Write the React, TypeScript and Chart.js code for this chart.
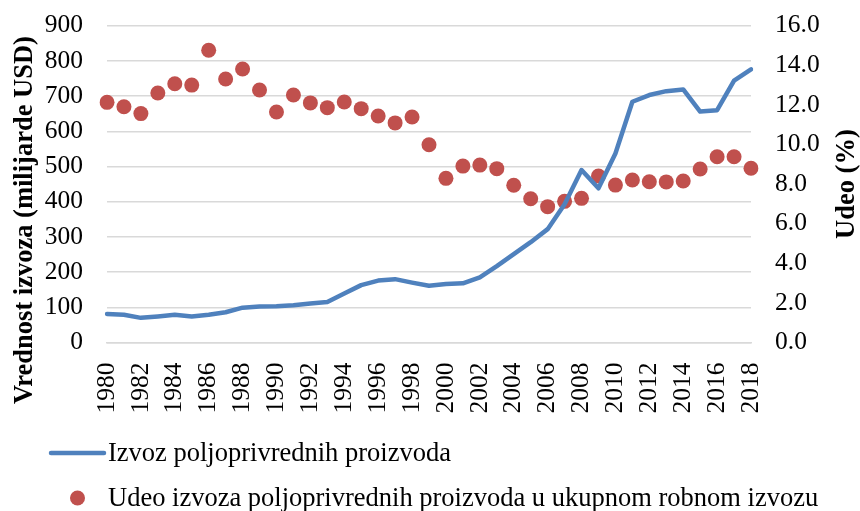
import React, { useEffect, useRef } from "react";
import { Chart, registerables } from "chart.js";

Chart.register(...registerables);

const years: string[] = [
  "1980","1981","1982","1983","1984","1985","1986","1987","1988","1989",
  "1990","1991","1992","1993","1994","1995","1996","1997","1998","1999",
  "2000","2001","2002","2003","2004","2005","2006","2007","2008","2009",
  "2010","2011","2012","2013","2014","2015","2016","2017","2018",
];

const exportValue: number[] = [
  81, 79, 70, 74, 79, 74, 79, 86, 99, 102,
  103, 106, 111, 115, 139, 163, 176, 180, 170, 161,
  166, 168, 185, 217, 251, 285, 322, 393, 490, 438,
  537, 684, 703, 714, 719, 656, 660, 744, 776,
];

const exportShare: number[] = [
  12.13, 11.91, 11.56, 12.6, 13.07, 13.0, 14.76, 13.31, 13.81, 12.75,
  11.64, 12.5, 12.1, 11.86, 12.15, 11.81, 11.44, 11.09, 11.39, 9.99,
  8.29, 8.91, 8.96, 8.78, 7.94, 7.26, 6.86, 7.13, 7.28, 8.41,
  7.95, 8.21, 8.12, 8.11, 8.16, 8.76, 9.38, 9.38, 8.8,
];

const lineLabel = "Izvoz poljoprivrednih proizvoda";
const dotLabel = "Udeo izvoza poljoprivrednih proizvoda u ukupnom robnom izvozu";
const leftTitle = "Vrednost izvoza (milijarde USD)";
const rightTitle = "Udeo (%)";

const FONT = "'Liberation Serif', 'Times New Roman', serif";
const BLUE = "#4F81BD";
const RED = "#C0504D";
const GRID = "#D9D9D9";
const TICK_SIZE = 25.5;
const TEXT_SIZE = 26.5;

const overlayPlugin = {
  id: "overlay",
  afterDraw(chart: any) {
    const ctx = chart.ctx as CanvasRenderingContext2D;
    const area = chart.chartArea;
    ctx.save();
    ctx.fillStyle = "#000";
    ctx.font = `bold ${TEXT_SIZE}px ${FONT}`;
    ctx.textAlign = "center";
    ctx.textBaseline = "middle";
    ctx.save();
    ctx.translate(25, 220);
    ctx.rotate(-Math.PI / 2);
    ctx.fillText(leftTitle, 0, 0);
    ctx.restore();
    ctx.save();
    ctx.translate(847, (area.top + area.bottom) / 2);
    ctx.rotate(-Math.PI / 2);
    ctx.fillText(rightTitle, 0, 0);
    ctx.restore();
    // legend
    ctx.font = `${TEXT_SIZE}px ${FONT}`;
    ctx.textAlign = "left";
    ctx.textBaseline = "alphabetic";
    ctx.strokeStyle = BLUE;
    ctx.lineWidth = 4.5;
    ctx.lineCap = "round";
    ctx.beginPath();
    ctx.moveTo(51, 453);
    ctx.lineTo(104, 453);
    ctx.stroke();
    ctx.fillText(lineLabel, 108, 461);
    ctx.fillStyle = RED;
    ctx.beginPath();
    ctx.arc(77.5, 498, 7.5, 0, Math.PI * 2);
    ctx.fill();
    ctx.fillStyle = "#000";
    ctx.fillText(dotLabel, 108, 506);
    ctx.restore();
  },
};

export default function App() {
  const ref = useRef<HTMLCanvasElement>(null);
  useEffect(() => {
    if (!ref.current) return;
    const chart = new Chart(ref.current, {
      type: "line",
      data: {
        labels: years,
        datasets: [
          {
            label: lineLabel,
            data: exportValue,
            borderColor: BLUE,
            backgroundColor: BLUE,
            borderWidth: 4.5,
            pointRadius: 0,
            tension: 0,
            yAxisID: "y",
            borderCapStyle: "round",
            borderJoinStyle: "round",
          },
          {
            label: dotLabel,
            data: exportShare,
            showLine: false,
            borderColor: RED,
            backgroundColor: RED,
            pointRadius: 7.5,
            pointBorderWidth: 0,
            yAxisID: "y1",
          },
        ],
      },
      options: {
        animation: false,
        responsive: false,
        events: [],
        layout: { padding: { top: 25.7, bottom: 511 - 342.5 - 70, left: 0, right: 0 } },
        plugins: { legend: { display: false }, tooltip: { enabled: false } },
        scales: {
          x: {
            grid: { display: false, drawTicks: false },
            border: { display: true, color: GRID, width: 1.5 },
            ticks: {
              autoSkip: false,
              minRotation: 90,
              maxRotation: 90,
              padding: 20,
              color: "#000",
              font: { family: FONT, size: TICK_SIZE },
              callback: (_v: any, i: number) => (i % 2 === 0 ? years[i] : ""),
            },
            afterFit: (s: any) => { s.height = 70; s.paddingLeft = 0; s.paddingRight = 0; },
          },
          y: {
            position: "left",
            min: 0,
            max: 900,
            grid: { color: GRID, lineWidth: 1.5, drawTicks: false },
            border: { display: false },
            ticks: {
              stepSize: 100,
              padding: 24,
              color: "#000",
              font: { family: FONT, size: TICK_SIZE },
            },
            afterFit: (s: any) => { s.width = 107; s.paddingTop = 0; s.paddingBottom = 0; },
          },
          y1: {
            position: "right",
            min: 0,
            max: 16,
            grid: { display: false, drawTicks: false },
            border: { display: false },
            ticks: {
              stepSize: 2,
              padding: 24,
              color: "#000",
              font: { family: FONT, size: TICK_SIZE },
              callback: (v: any) => Number(v).toFixed(1),
            },
            afterFit: (s: any) => { s.width = 109; s.paddingTop = 0; s.paddingBottom = 0; },
          },
        },
      },
      plugins: [overlayPlugin],
    });
    return () => chart.destroy();
  }, []);
  return (
    <div style={{ position: "fixed", left: 0, top: 0, width: 860, height: 511, background: "#fff" }}>
      <canvas ref={ref} width={860} height={511} style={{ width: 860, height: 511 }} />
    </div>
  );
}
